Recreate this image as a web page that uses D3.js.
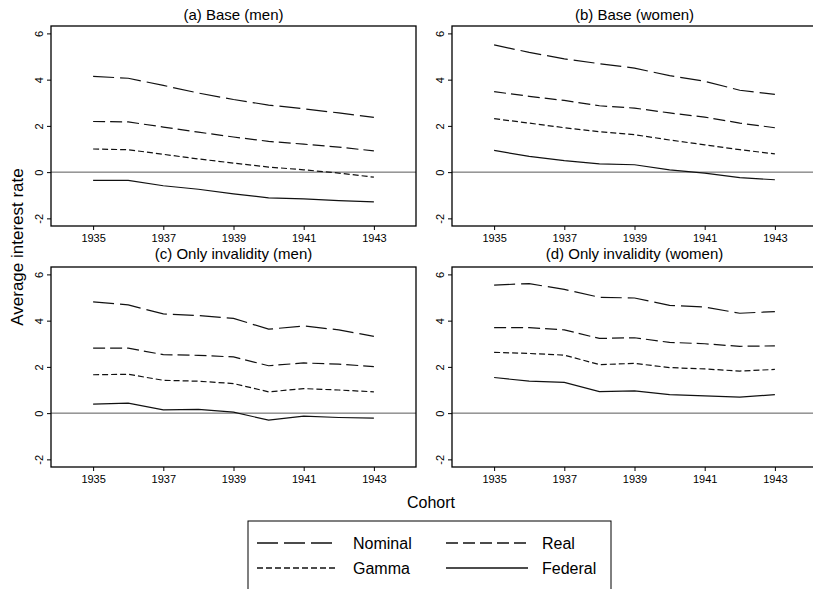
<!DOCTYPE html>
<html lang="en">
<head>
  <meta charset="UTF-8">
  <title>Average interest rate by cohort</title>
  <script src="https://cdn.jsdelivr.net/npm/d3@7"></script>
  <style>
    body { margin: 0; background: #fff; }
    svg { display: block; font-family: "Liberation Sans", Arial, sans-serif; }
  </style>
</head>
<body>
  <svg id="chart" width="813" height="589"></svg>
  <script>
    // cohorts on the x axis
    const cohorts = [1935, 1936, 1937, 1938, 1939, 1940, 1941, 1942, 1943];
    const xTicks = [1935, 1937, 1939, 1941, 1943];
    const yTicks = [-2, 0, 2, 4, 6];

    const seriesNames = ["Nominal", "Real", "Gamma", "Federal"];
    const panelTitles = ["(a) Base (men)", "(b) Base (women)", "(c) Only invalidity (men)", "(d) Only invalidity (women)"];

    // (a) Base (men)
    const baseMenNominal = [4.14, 4.06, 3.75, 3.42, 3.14, 2.90, 2.74, 2.56, 2.37];
    const baseMenReal    = [2.19, 2.17, 1.95, 1.73, 1.52, 1.33, 1.21, 1.08, 0.92];
    const baseMenGamma   = [1.00, 0.97, 0.77, 0.57, 0.39, 0.22, 0.10, -0.04, -0.22];
    const baseMenFederal = [-0.36, -0.36, -0.59, -0.74, -0.94, -1.11, -1.16, -1.23, -1.29];

    // (b) Base (women)
    const baseWomenNominal = [5.50, 5.18, 4.90, 4.69, 4.50, 4.17, 3.93, 3.54, 3.36];
    const baseWomenReal    = [3.48, 3.28, 3.10, 2.87, 2.77, 2.56, 2.38, 2.12, 1.92];
    const baseWomenGamma   = [2.31, 2.12, 1.92, 1.75, 1.62, 1.39, 1.18, 0.97, 0.79];
    const baseWomenFederal = [0.94, 0.68, 0.50, 0.36, 0.32, 0.10, -0.04, -0.24, -0.33];

    // (c) Only invalidity (men)
    const invMenNominal = [4.81, 4.68, 4.29, 4.22, 4.10, 3.63, 3.77, 3.60, 3.32];
    const invMenReal    = [2.81, 2.81, 2.53, 2.50, 2.43, 2.05, 2.17, 2.12, 2.01];
    const invMenGamma   = [1.66, 1.68, 1.42, 1.38, 1.28, 0.92, 1.06, 1.00, 0.92];
    const invMenFederal = [0.39, 0.43, 0.14, 0.16, 0.04, -0.30, -0.13, -0.19, -0.22];

    // (d) Only invalidity (women)
    const invWomenNominal = [5.54, 5.60, 5.35, 5.01, 4.98, 4.66, 4.59, 4.32, 4.39];
    const invWomenReal    = [3.70, 3.70, 3.60, 3.23, 3.26, 3.06, 3.00, 2.89, 2.91];
    const invWomenGamma   = [2.63, 2.58, 2.51, 2.10, 2.15, 1.97, 1.91, 1.82, 1.89];
    const invWomenFederal = [1.54, 1.38, 1.33, 0.93, 0.96, 0.80, 0.75, 0.69, 0.80];

    const panelData = [
      [baseMenNominal, baseMenReal, baseMenGamma, baseMenFederal],
      [baseWomenNominal, baseWomenReal, baseWomenGamma, baseWomenFederal],
      [invMenNominal, invMenReal, invMenGamma, invMenFederal],
      [invWomenNominal, invWomenReal, invWomenGamma, invWomenFederal]
    ];

    const dashes = ["21,6", "12,5", "6,3", null];

    const pw = 365, ph = 200;
    const layout = [
      { x: 51,  y: 26,  titleY: 20 },
      { x: 452, y: 26,  titleY: 20 },
      { x: 51,  y: 267, titleY: 259 },
      { x: 452, y: 267, titleY: 259 }
    ];

    const svg = d3.select("#chart");

    const xScale = d3.scaleLinear().domain([1933.8, 1944.2]).range([0, pw]);
    const yScale = d3.scaleLinear().domain([-2.33, 6.32]).range([ph, 0]);

    panelData.forEach((series, i) => {
      const pos = layout[i];
      const g = svg.append("g").attr("transform", `translate(${pos.x},${pos.y})`);

      svg.append("text")
        .attr("x", pos.x + pw / 2)
        .attr("y", pos.titleY)
        .attr("text-anchor", "middle")
        .attr("font-size", 15)
        .text(panelTitles[i]);

      // zero reference line
      g.append("line")
        .attr("x1", 0).attr("x2", pw)
        .attr("y1", yScale(0)).attr("y2", yScale(0))
        .attr("stroke", "#5a5a5a")
        .attr("stroke-width", 1);

      const line = d3.line()
        .x((d, j) => xScale(cohorts[j]))
        .y(d => yScale(d));

      series.forEach((vals, k) => {
        g.append("path")
          .datum(vals)
          .attr("d", line)
          .attr("fill", "none")
          .attr("stroke", "#111")
          .attr("stroke-width", 1.2)
          .attr("stroke-dasharray", dashes[k]);
      });

      // axes
      const xAxis = d3.axisBottom(xScale).tickValues(xTicks).tickSize(4).tickPadding(4).tickFormat(d => String(d));
      const gx = g.append("g").attr("transform", `translate(0,${ph})`).call(xAxis);
      gx.select(".domain").remove();
      gx.selectAll("text").attr("font-size", 11).attr("font-family", "Liberation Sans, Arial, sans-serif");

      const yAxis = d3.axisLeft(yScale).tickValues(yTicks).tickSize(4).tickFormat(d => String(d));
      const gy = g.append("g").call(yAxis);
      gy.select(".domain").remove();
      gy.selectAll("text")
        .attr("font-size", 11)
        .attr("font-family", "Liberation Sans, Arial, sans-serif")
        .attr("text-anchor", "middle")
        .attr("dy", null)
        .attr("x", null)
        .attr("transform", "translate(-8,0) rotate(-90)")
        .attr("y", 0);

      // frame
      g.append("rect")
        .attr("width", pw).attr("height", ph)
        .attr("fill", "none")
        .attr("stroke", "#000")
        .attr("stroke-width", 1.3);
    });

    // axis titles
    svg.append("text")
      .attr("transform", "translate(23,247) rotate(-90)")
      .attr("text-anchor", "middle")
      .attr("font-size", 17)
      .text("Average interest rate");

    svg.append("text")
      .attr("x", 431).attr("y", 508)
      .attr("text-anchor", "middle")
      .attr("font-size", 16)
      .text("Cohort");

    // legend
    const legend = svg.append("g");
    legend.append("rect")
      .attr("x", 248).attr("y", 521)
      .attr("width", 363).attr("height", 100)
      .attr("fill", "#fff")
      .attr("stroke", "#000")
      .attr("stroke-width", 1);

    const legendPos = [
      { x1: 257, x2: 337, tx: 353, y: 543 },
      { x1: 446, x2: 528, tx: 542, y: 543 },
      { x1: 257, x2: 337, tx: 353, y: 568 },
      { x1: 446, x2: 528, tx: 542, y: 568 }
    ];
    seriesNames.forEach((name, k) => {
      const p = legendPos[k];
      legend.append("line")
        .attr("x1", p.x1).attr("x2", p.x2)
        .attr("y1", p.y).attr("y2", p.y)
        .attr("stroke", "#111")
        .attr("stroke-width", 1.3)
        .attr("stroke-dasharray", dashes[k]);
      legend.append("text")
        .attr("x", p.tx).attr("y", p.y + 5.5)
        .attr("font-size", 16)
        .text(name);
    });
  </script>
</body>
</html>
